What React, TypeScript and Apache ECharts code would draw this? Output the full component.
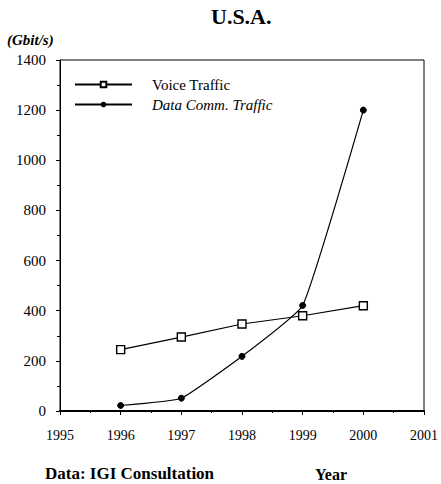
import React, { useEffect, useRef } from "react";
import * as echarts from "echarts";

const years = [1996, 1997, 1998, 1999, 2000];
const voiceTraffic = [245, 295, 347, 380, 420];
const dataTraffic = [22, 51, 218, 421, 1200];
const seriesNames = ["Voice Traffic", "Data Comm. Traffic"];
const titleText = "U.S.A.";
const unitText = "(Gbit/s)";
const sourceText = "Data: IGI Consultation";
const xName = "Year";

const FONT = "Liberation Serif";

export default function App() {
  const ref = useRef<HTMLDivElement>(null);
  useEffect(() => {
    document.body.style.margin = "0";
    const chart = echarts.init(ref.current!, null, { renderer: "svg" });
    const voicePts = years.map((y, i) => [y, voiceTraffic[i]]);
    const dataPts = years.map((y, i) => [y, dataTraffic[i]]);
    chart.setOption({
      animation: false,
      backgroundColor: "#fff",
      textStyle: { fontFamily: FONT, color: "#000" },
      grid: {
        left: 60,
        right: 9,
        top: 60,
        bottom: 73,
        show: true,
        borderColor: "#000",
        borderWidth: 1,
        backgroundColor: "transparent",
      },
      graphic: [
        {
          type: "text",
          left: 211,
          top: 5,
          style: { text: titleText, font: `bold 22px "${FONT}"`, fill: "#000" },
        },
        {
          type: "text",
          left: 7,
          top: 32,
          style: { text: unitText, font: `italic bold 15px "${FONT}"`, fill: "#000" },
        },
        {
          type: "text",
          left: 45,
          top: 465,
          style: { text: sourceText, font: `bold 17px "${FONT}"`, fill: "#000" },
        },
        {
          type: "text",
          left: 315,
          top: 466,
          style: { text: xName, font: `bold 16px "${FONT}"`, fill: "#000" },
        },
      ],
      legend: {
        left: 74,
        top: 77,
        padding: 0,
        orient: "vertical",
        itemWidth: 57,
        itemHeight: 7,
        itemGap: 5,
        textStyle: {
          fontFamily: FONT,
          fontSize: 15,
          color: "#000",
          padding: [0, 0, 0, 15],
          rich: {
            it: { fontFamily: FONT, fontSize: 15, fontStyle: "italic", color: "#000" },
            n: { fontFamily: FONT, fontSize: 15, color: "#000" },
          },
        },
        formatter: (name: string) =>
          name === seriesNames[1] ? `{it|${name}}` : `{n|${name}}`,
        data: seriesNames,
      },
      xAxis: {
        type: "value",
        min: 1995,
        max: 2001,
        interval: 1,
        axisLine: { show: true, lineStyle: { color: "#000", width: 2 } },
        axisTick: { show: true, inside: false, length: 4, lineStyle: { color: "#000" } },
        minorTick: { show: true, splitNumber: 2, length: 2, lineStyle: { color: "#000" } },
        splitLine: { show: false },
        axisLabel: {
          color: "#000",
          fontFamily: FONT,
          fontSize: 14,
          margin: 17,
          formatter: (v: number) => String(v),
        },
      },
      yAxis: {
        type: "value",
        min: 0,
        max: 1400,
        interval: 200,
        axisLine: { show: true, lineStyle: { color: "#000", width: 1 } },
        axisTick: { show: true, length: 4, lineStyle: { color: "#000" } },
        minorTick: { show: true, splitNumber: 2, length: 3, lineStyle: { color: "#000" } },
        splitLine: { show: false },
        axisLabel: {
          color: "#000",
          fontFamily: FONT,
          fontSize: 15,
          margin: 14,
          formatter: (v: number) => String(v),
        },
      },
      series: [
        {
          name: seriesNames[0],
          type: "line",
          data: voicePts,
          symbol: "rect",
          symbolSize: 8,
          itemStyle: { color: "#fff", borderColor: "#000", borderWidth: 1.4 },
          lineStyle: { color: "#000", width: 1.2 },
          z: 3,
        },
        {
          name: seriesNames[1],
          type: "line",
          data: dataPts,
          smooth: 0.12,
          symbol: "circle",
          symbolSize: 6,
          itemStyle: { color: "#000", borderColor: "#000" },
          lineStyle: { color: "#000", width: 1.2 },
          z: 4,
        },
      ],
    });
    return () => chart.dispose();
  }, []);
  return <div ref={ref} style={{ width: 441, height: 484 }} />;
}
